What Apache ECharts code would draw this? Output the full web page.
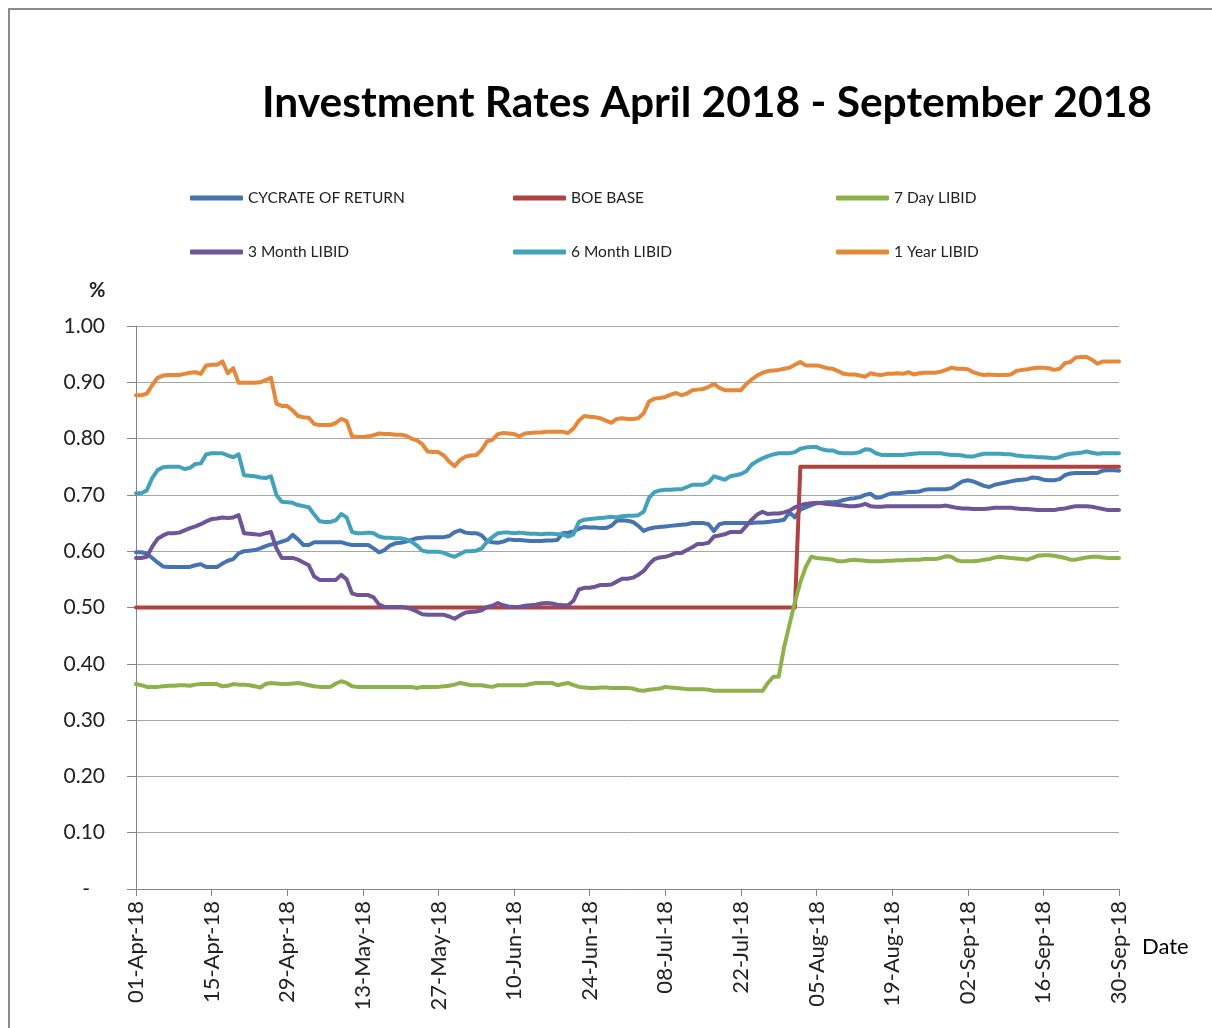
<!DOCTYPE html>
<html>
<head>
<meta charset="utf-8">
<script src="https://cdn.jsdelivr.net/npm/echarts@6/dist/echarts.min.js"></script>
<style>
html,body{margin:0;padding:0;background:#fff;}
#chart{width:1212px;height:1028px;}
</style>
</head>
<body>
<div id="chart"></div>
<script>
// ---- Data ----
const startDate = [2018, 3, 1];   // 01-Apr-18
const dayCount = 183;             // through 30-Sep-18
const monthNames = ['Jan','Feb','Mar','Apr','May','Jun','Jul','Aug','Sep','Oct','Nov','Dec'];
const categories = [];
for (let i = 0; i < dayCount; i++) {
  const d = new Date(Date.UTC(startDate[0], startDate[1], startDate[2] + i));
  const dd = String(d.getUTCDate()).padStart(2, '0');
  categories.push(dd + '-' + monthNames[d.getUTCMonth()] + '-' + String(d.getUTCFullYear()).slice(2));
}

const seriesNames = ['CYCRATE OF RETURN', 'BOE BASE', '7 Day LIBID', '3 Month LIBID', '6 Month LIBID', '1 Year LIBID'];

const cycRate = [
0.598,0.598,0.596,0.588,0.580,0.573,0.572,0.572,0.572,0.572,
0.572,0.575,0.577,0.572,0.572,0.572,0.578,0.583,0.586,0.596,
0.600,0.601,0.602,0.605,0.609,0.612,0.614,0.617,0.620,0.629,
0.621,0.611,0.611,0.616,0.616,0.616,0.616,0.616,0.616,0.613,
0.611,0.611,0.611,0.611,0.605,0.598,0.602,0.610,0.614,0.615,
0.617,0.620,0.623,0.624,0.625,0.625,0.625,0.625,0.627,0.634,
0.637,0.633,0.632,0.632,0.628,0.618,0.616,0.615,0.617,0.621,
0.620,0.620,0.619,0.618,0.618,0.618,0.619,0.619,0.620,0.632,
0.633,0.635,0.640,0.643,0.642,0.642,0.641,0.641,0.645,0.654,
0.655,0.654,0.652,0.645,0.636,0.640,0.642,0.643,0.644,0.645,
0.646,0.647,0.648,0.650,0.650,0.650,0.648,0.636,0.648,0.650,
0.650,0.650,0.650,0.650,0.650,0.651,0.651,0.652,0.653,0.654,
0.656,0.669,0.660,0.674,0.678,0.682,0.685,0.686,0.687,0.687,
0.688,0.691,0.693,0.694,0.696,0.700,0.702,0.695,0.696,0.700,
0.703,0.703,0.704,0.705,0.705,0.706,0.709,0.710,0.710,0.710,
0.710,0.712,0.718,0.724,0.726,0.724,0.720,0.716,0.714,0.718,
0.720,0.722,0.724,0.726,0.727,0.728,0.731,0.730,0.727,0.726,
0.726,0.728,0.735,0.738,0.739,0.739,0.739,0.739,0.739,0.743,
0.744,0.744,0.743];

const boeBase = [
0.50,0.50,0.50,0.50,0.50,0.50,0.50,0.50,0.50,0.50,
0.50,0.50,0.50,0.50,0.50,0.50,0.50,0.50,0.50,0.50,
0.50,0.50,0.50,0.50,0.50,0.50,0.50,0.50,0.50,0.50,
0.50,0.50,0.50,0.50,0.50,0.50,0.50,0.50,0.50,0.50,
0.50,0.50,0.50,0.50,0.50,0.50,0.50,0.50,0.50,0.50,
0.50,0.50,0.50,0.50,0.50,0.50,0.50,0.50,0.50,0.50,
0.50,0.50,0.50,0.50,0.50,0.50,0.50,0.50,0.50,0.50,
0.50,0.50,0.50,0.50,0.50,0.50,0.50,0.50,0.50,0.50,
0.50,0.50,0.50,0.50,0.50,0.50,0.50,0.50,0.50,0.50,
0.50,0.50,0.50,0.50,0.50,0.50,0.50,0.50,0.50,0.50,
0.50,0.50,0.50,0.50,0.50,0.50,0.50,0.50,0.50,0.50,
0.50,0.50,0.50,0.50,0.50,0.50,0.50,0.50,0.50,0.50,
0.50,0.50,0.50,0.75,0.75,0.75,0.75,0.75,0.75,0.75,
0.75,0.75,0.75,0.75,0.75,0.75,0.75,0.75,0.75,0.75,
0.75,0.75,0.75,0.75,0.75,0.75,0.75,0.75,0.75,0.75,
0.75,0.75,0.75,0.75,0.75,0.75,0.75,0.75,0.75,0.75,
0.75,0.75,0.75,0.75,0.75,0.75,0.75,0.75,0.75,0.75,
0.75,0.75,0.75,0.75,0.75,0.75,0.75,0.75,0.75,0.75,
0.75,0.75,0.75];

const day7Libid = [
0.364,0.362,0.359,0.359,0.359,0.360,0.361,0.361,0.362,0.362,
0.361,0.363,0.364,0.364,0.364,0.364,0.360,0.361,0.364,0.363,
0.363,0.362,0.360,0.358,0.364,0.366,0.365,0.364,0.364,0.365,
0.366,0.364,0.362,0.360,0.359,0.359,0.359,0.365,0.369,0.366,
0.360,0.359,0.359,0.359,0.359,0.359,0.359,0.359,0.359,0.359,
0.359,0.359,0.357,0.359,0.359,0.359,0.359,0.360,0.361,0.363,
0.366,0.364,0.362,0.362,0.362,0.360,0.359,0.362,0.362,0.362,
0.362,0.362,0.362,0.364,0.366,0.366,0.366,0.366,0.362,0.364,
0.366,0.362,0.359,0.358,0.357,0.357,0.358,0.358,0.357,0.357,
0.357,0.357,0.356,0.353,0.352,0.354,0.355,0.356,0.359,0.358,
0.357,0.356,0.355,0.355,0.355,0.355,0.354,0.352,0.352,0.352,
0.352,0.352,0.352,0.352,0.352,0.352,0.352,0.366,0.377,0.377,
0.430,0.470,0.510,0.545,0.572,0.590,0.588,0.587,0.586,0.585,
0.582,0.582,0.584,0.585,0.584,0.583,0.582,0.582,0.582,0.583,
0.583,0.584,0.584,0.585,0.585,0.585,0.586,0.586,0.586,0.588,
0.591,0.590,0.584,0.582,0.582,0.582,0.583,0.585,0.586,0.589,
0.590,0.589,0.588,0.587,0.586,0.585,0.588,0.592,0.593,0.593,
0.592,0.590,0.588,0.585,0.585,0.587,0.589,0.590,0.590,0.589,
0.588,0.588,0.588];

const month3Libid = [
0.588,0.588,0.590,0.608,0.622,0.628,0.632,0.632,0.633,0.637,
0.641,0.644,0.648,0.653,0.657,0.658,0.660,0.659,0.660,0.664,
0.632,0.631,0.630,0.629,0.632,0.634,0.605,0.588,0.588,0.588,
0.585,0.580,0.575,0.555,0.549,0.549,0.549,0.549,0.558,0.550,
0.525,0.522,0.522,0.522,0.518,0.505,0.501,0.501,0.501,0.501,
0.500,0.497,0.493,0.488,0.487,0.487,0.487,0.487,0.484,0.480,
0.486,0.491,0.492,0.493,0.495,0.501,0.503,0.508,0.504,0.502,
0.501,0.501,0.503,0.504,0.505,0.507,0.508,0.507,0.505,0.504,
0.504,0.512,0.532,0.535,0.535,0.537,0.540,0.540,0.541,0.546,
0.551,0.551,0.553,0.558,0.565,0.577,0.586,0.589,0.590,0.593,
0.597,0.597,0.602,0.607,0.613,0.613,0.615,0.626,0.628,0.630,
0.634,0.634,0.634,0.645,0.656,0.665,0.670,0.666,0.667,0.667,
0.669,0.672,0.678,0.682,0.684,0.685,0.686,0.685,0.684,0.683,
0.682,0.681,0.680,0.680,0.681,0.684,0.680,0.679,0.679,0.680,
0.680,0.680,0.680,0.680,0.680,0.680,0.680,0.680,0.680,0.680,
0.681,0.679,0.677,0.676,0.676,0.675,0.675,0.675,0.676,0.677,
0.677,0.677,0.677,0.676,0.675,0.675,0.674,0.673,0.673,0.673,
0.673,0.675,0.676,0.678,0.680,0.680,0.680,0.679,0.677,0.675,
0.673,0.673,0.673];

const month6Libid = [
0.703,0.703,0.708,0.730,0.744,0.749,0.750,0.750,0.750,0.746,
0.748,0.755,0.756,0.772,0.774,0.774,0.774,0.770,0.767,0.772,
0.735,0.734,0.733,0.731,0.730,0.733,0.700,0.688,0.687,0.686,
0.682,0.680,0.678,0.665,0.653,0.652,0.652,0.655,0.666,0.660,
0.634,0.632,0.632,0.633,0.632,0.626,0.624,0.624,0.623,0.623,
0.621,0.617,0.610,0.601,0.599,0.599,0.599,0.597,0.593,0.590,
0.595,0.600,0.600,0.601,0.605,0.617,0.625,0.632,0.633,0.633,
0.632,0.633,0.632,0.631,0.631,0.630,0.631,0.631,0.630,0.630,
0.626,0.630,0.652,0.656,0.657,0.658,0.659,0.660,0.661,0.660,
0.662,0.663,0.663,0.664,0.670,0.695,0.705,0.708,0.709,0.709,
0.710,0.710,0.714,0.718,0.718,0.718,0.722,0.733,0.730,0.727,
0.733,0.735,0.737,0.742,0.754,0.760,0.765,0.769,0.772,0.774,
0.774,0.774,0.776,0.782,0.784,0.785,0.785,0.781,0.779,0.779,
0.775,0.774,0.774,0.774,0.776,0.781,0.780,0.774,0.771,0.771,
0.771,0.771,0.771,0.772,0.773,0.774,0.774,0.774,0.774,0.774,
0.772,0.771,0.771,0.770,0.768,0.768,0.771,0.773,0.773,0.773,
0.773,0.772,0.772,0.770,0.769,0.768,0.768,0.767,0.767,0.766,
0.765,0.767,0.771,0.773,0.774,0.775,0.777,0.775,0.773,0.774,
0.774,0.774,0.774];

const year1Libid = [
0.877,0.877,0.880,0.895,0.908,0.912,0.913,0.913,0.913,0.915,
0.917,0.918,0.915,0.930,0.931,0.931,0.937,0.916,0.925,0.899,
0.899,0.899,0.899,0.900,0.904,0.908,0.862,0.858,0.858,0.850,
0.840,0.838,0.837,0.826,0.824,0.824,0.824,0.828,0.835,0.831,
0.804,0.803,0.803,0.804,0.806,0.809,0.808,0.808,0.807,0.807,
0.805,0.800,0.797,0.790,0.777,0.776,0.776,0.770,0.759,0.751,
0.762,0.768,0.770,0.771,0.780,0.795,0.798,0.808,0.810,0.809,
0.808,0.804,0.809,0.810,0.811,0.811,0.812,0.812,0.812,0.812,
0.810,0.818,0.832,0.840,0.839,0.838,0.836,0.832,0.828,0.835,
0.836,0.835,0.835,0.836,0.845,0.866,0.871,0.872,0.874,0.878,
0.881,0.877,0.880,0.886,0.887,0.888,0.892,0.897,0.890,0.886,
0.886,0.886,0.886,0.897,0.905,0.912,0.917,0.920,0.921,0.922,
0.924,0.926,0.931,0.936,0.930,0.930,0.930,0.928,0.925,0.924,
0.920,0.915,0.914,0.914,0.912,0.910,0.916,0.914,0.913,0.915,
0.915,0.916,0.915,0.918,0.914,0.916,0.917,0.917,0.917,0.919,
0.922,0.926,0.924,0.924,0.923,0.918,0.915,0.913,0.914,0.913,
0.913,0.913,0.914,0.920,0.922,0.923,0.925,0.926,0.926,0.925,
0.922,0.924,0.934,0.936,0.944,0.945,0.945,0.940,0.933,0.937,
0.937,0.937,0.937];

const yTicks = [0, 0.1, 0.2, 0.3, 0.4, 0.5, 0.6, 0.7, 0.8, 0.9, 1.0];

// ---- Styles ----
const colors = ['#4674B0', '#B0433F', '#8DB24C', '#6F5597', '#43A2BB', '#E6883A'];
const allData = [cycRate, boeBase, day7Libid, month3Libid, month6Libid, year1Libid];
const FONT = 'Lato, "Open Sans", sans-serif';

const legendPos = [
  {left: 190, top: 190}, {left: 513, top: 190}, {left: 836, top: 190},
  {left: 190, top: 244}, {left: 513, top: 244}, {left: 836, top: 244}
];

const chart = echarts.init(document.getElementById('chart'), null, {renderer: 'canvas'});
chart.setOption({
  animation: false,
  backgroundColor: '#ffffff',
  color: colors,
  title: {
    text: 'Investment Rates April 2018 - September 2018',
    left: 257, top: 77,
    textStyle: {fontFamily: FONT, fontWeight: 'bold', fontSize: 42.5, color: '#000'}
  },
  legend: seriesNames.map((n, i) => ({
    data: [n],
    left: legendPos[i].left, top: legendPos[i].top,
    padding: 0,
    icon: 'roundRect', itemWidth: 53, itemHeight: 5,
    selectedMode: false,
    textStyle: {fontFamily: FONT, fontSize: 15.5, color: '#222'}
  })),
  grid: {left: 136, right: 93, top: 326, bottom: 139, containLabel: false},
  xAxis: {
    type: 'category',
    data: categories,
    boundaryGap: false,
    axisLine: {lineStyle: {color: '#868686', width: 1}},
    axisTick: {interval: 13, length: 7, lineStyle: {color: '#868686'}},
    axisLabel: {interval: 13, rotate: 90, margin: 12, fontFamily: FONT, fontSize: 22, color: '#222'},
    splitLine: {show: false}
  },
  yAxis: {
    type: 'value',
    min: 0, max: 1, interval: 0.1,
    axisLine: {show: true, lineStyle: {color: '#868686', width: 1}},
    axisTick: {show: true, length: 9, lineStyle: {color: '#868686'}},
    axisLabel: {
      margin: 31, fontFamily: FONT, fontSize: 21, color: '#222',
      formatter: v => (Math.abs(v) < 1e-9 ? '{z|-}' : v.toFixed(2)),
      rich: {z: {fontFamily: FONT, fontSize: 21, color: '#222', padding: [0, 15, 0, 0]}}
    },
    splitLine: {lineStyle: {color: '#A6A6A6', width: 1}}
  },
  graphic: [
    {type: 'rect', shape: {x: 9, y: 9, width: 1400, height: 1200}, style: {fill: 'none', stroke: '#8A8A8A', lineWidth: 2}, silent: true, z: -1},
    {type: 'text', left: 89, top: 281, style: {text: '%', fontFamily: FONT, fontWeight: 'bold', fontSize: 20, fill: '#222'}},
    {type: 'text', left: 1142, top: 936, style: {text: 'Date', fontFamily: FONT, fontSize: 22, fill: '#000'}}
  ],
  series: seriesNames.map((n, i) => ({
    name: n,
    type: 'line',
    data: allData[i],
    showSymbol: false,
    symbol: 'none',
    lineStyle: {width: 4, color: colors[i], join: 'round', cap: 'round'},
    itemStyle: {color: colors[i]},
    emphasis: {disabled: true}
  }))
});
</script>
</body>
</html>
